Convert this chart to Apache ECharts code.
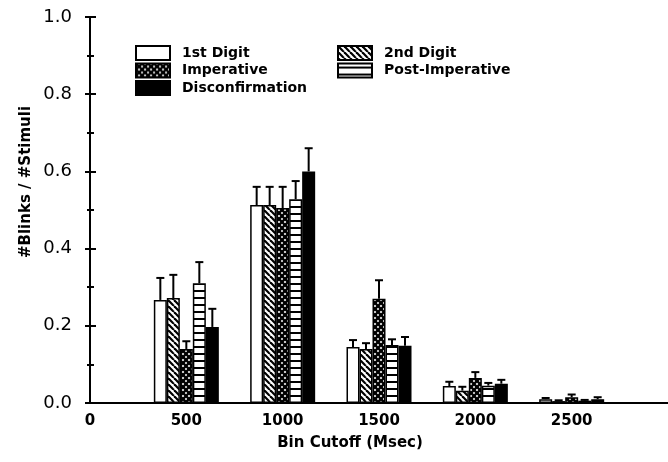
<!DOCTYPE html>
<html>
<head>
<meta charset="utf-8">
<script src="https://cdn.jsdelivr.net/npm/echarts@6/dist/echarts.min.js"></script>
<style>
  html, body { margin: 0; padding: 0; background: #fff; }
  #chart { width: 668px; height: 462px; }
</style>
</head>
<body>
<div id="chart"></div>
<script>
// bin cutoffs (msec) and group values
const bins = [500, 1000, 1500, 2000, 2500];
const seriesNames = ['1st Digit', '2nd Digit', 'Imperative', 'Post-Imperative', 'Disconfirmation'];

const firstDigit = [0.267, 0.513, 0.145, 0.044, 0.010];
const secondDigit = [0.272, 0.513, 0.140, 0.032, 0.005];
const imperative = [0.140, 0.505, 0.270, 0.065, 0.015];
const postImperative = [0.310, 0.528, 0.150, 0.045, 0.006];
const disconfirmation = [0.197, 0.600, 0.148, 0.050, 0.010];

// upper error bar lengths
const firstDigitErr = [0.057, 0.047, 0.018, 0.011, 0.003];
const secondDigitErr = [0.060, 0.047, 0.015, 0.010, 0.002];
const imperativeErr = [0.020, 0.055, 0.048, 0.015, 0.007];
const postImperativeErr = [0.055, 0.047, 0.015, 0.007, 0.002];
const disconfirmationErr = [0.047, 0.060, 0.023, 0.010, 0.005];

const allValues = [firstDigit, secondDigit, imperative, postImperative, disconfirmation];
const allErrs = [firstDigitErr, secondDigitErr, imperativeErr, postImperativeErr, disconfirmationErr];

const barW = 13;

function makePattern(kind) {
  let c = document.createElement('canvas');
  let s = kind == 'horiz' ? 7 : 6;
  c.width = s;
  c.height = s;
  let ctx = c.getContext('2d');
  ctx.fillStyle = '#fff';
  ctx.fillRect(0, 0, s, s);
  ctx.strokeStyle = '#000';
  if (kind == 'diag' || kind == 'cross') {
    ctx.lineWidth = kind == 'cross' ? 2.4 : 2.2;
    for (let k = -1; k <= 1; k++) {
      ctx.beginPath();
      ctx.moveTo(k * s, 0);
      ctx.lineTo(k * s + s, s);
      ctx.stroke();
    }
    if (kind == 'cross') {
      for (let k = -1; k <= 1; k++) {
        ctx.beginPath();
        ctx.moveTo(k * s + s, 0);
        ctx.lineTo(k * s, s);
        ctx.stroke();
      }
    }
  } else if (kind == 'horiz') {
    ctx.fillStyle = '#000';
    ctx.fillRect(0, 3, s, 2);
  }
  return { image: c, repeat: 'repeat' };
}

const fills = ['#fff', makePattern('diag'), makePattern('cross'), makePattern('horiz'), '#000'];

let chart = echarts.init(document.getElementById('chart'));

let barSeries = allValues.map((vals, i) => ({
  name: seriesNames[i],
  type: 'bar',
  barWidth: barW,
  barGap: '0%',
  data: bins.map((b, j) => [b, vals[j]]),
  itemStyle: { color: fills[i], borderColor: '#000', borderWidth: 1.5 },
  emphasis: { disabled: true },
  z: 3,
}));

let errData = [];
allValues.forEach((vals, i) => {
  bins.forEach((b, j) => {
    errData.push([b, vals[j], vals[j] + allErrs[i][j], i]);
  });
});

let errSeries = {
  type: 'custom',
  name: 'err',
  data: errData,
  z: 4,
  silent: true,
  renderItem: (params, api) => {
    let p0 = api.coord([api.value(0), api.value(1)]);
    let p1 = api.coord([api.value(0), api.value(2)]);
    let cx = p0[0] + (api.value(3) - 2) * barW;
    return {
      type: 'group',
      children: [
        { type: 'line', shape: { x1: cx, y1: p0[1], x2: cx, y2: p1[1] }, style: { stroke: '#000', lineWidth: 2 } },
        { type: 'line', shape: { x1: cx - 4, y1: p1[1], x2: cx + 4, y2: p1[1] }, style: { stroke: '#000', lineWidth: 2 } },
      ],
    };
  },
};

const legendText = {
  fontFamily: 'DejaVu Sans',
  fontWeight: 'bold',
  fontSize: 14,
  lineHeight: 14,
  color: '#000',
  padding: [0, 0, 0, 7],
};

chart.setOption({
  animation: false,
  backgroundColor: '#fff',
  grid: { left: 90, right: 0, top: 17, bottom: 59 },
  legend: [
    {
      orient: 'vertical',
      left: 130,
      top: 40,
      itemWidth: 34,
      itemHeight: 14,
      itemGap: 1.5,
      icon: 'rect',
      data: [seriesNames[0], seriesNames[2], seriesNames[4]],
      textStyle: legendText,
      selectedMode: false,
    },
    {
      orient: 'vertical',
      left: 332,
      top: 40,
      itemWidth: 34,
      itemHeight: 14,
      itemGap: 1.5,
      icon: 'rect',
      data: [seriesNames[1], seriesNames[3]],
      textStyle: legendText,
      selectedMode: false,
    },
  ],
  xAxis: [
    {
      type: 'value',
      min: 0,
      max: 3000,
      interval: 500,
      axisLine: { show: true, lineStyle: { color: '#000', width: 2 } },
      axisTick: { show: false },
      splitLine: { show: false },
      axisLabel: {
        showMaxLabel: false,
        margin: 11,
        color: '#000',
        fontFamily: 'DejaVu Sans',
        fontWeight: 'bold',
        fontSize: 15,
        formatter: (v) => String(v),
      },
    },
    {
      type: 'value',
      position: 'top',
      min: 0,
      max: 3000,
      axisLine: { show: true, lineStyle: { color: '#000', width: 2 } },
      axisTick: { show: false },
      axisLabel: { show: false },
      splitLine: { show: false },
    },
  ],
  yAxis: [
    {
      type: 'value',
      min: 0,
      max: 1,
      interval: 0.2,
      axisLine: { show: true, lineStyle: { color: '#000', width: 2 } },
      axisTick: { show: true, inside: true, length: 6, lineStyle: { color: '#000', width: 2 } },
      minorTick: { show: true, splitNumber: 2, length: 4, lineStyle: { color: '#000', width: 2 } },
      splitLine: { show: false },
      axisLabel: {
        margin: 18,
        color: '#000',
        fontFamily: 'DejaVu Sans',
        fontSize: 18,
        formatter: (v) => v.toFixed(1),
      },
    },
    {
      type: 'value',
      position: 'right',
      min: 0,
      max: 1,
      interval: 0.2,
      axisLine: { show: false },
      axisTick: { show: true, inside: true, length: 5, lineStyle: { color: '#000', width: 2 } },
      minorTick: { show: true, splitNumber: 2, length: 3, lineStyle: { color: '#000', width: 2 } },
      splitLine: { show: false },
      axisLabel: { show: false },
    },
  ],
  graphic: [
    {
      type: 'text',
      x: 26,
      y: 182,
      rotation: Math.PI / 2,
      style: {
        text: '#Blinks / #Stimuli',
        fontFamily: 'DejaVu Sans',
        fontWeight: 'bold',
        fontSize: 15,
        fill: '#000',
        align: 'center',
        verticalAlign: 'middle',
      },
    },
    {
      type: 'text',
      x: 350,
      y: 443,
      style: {
        text: 'Bin Cutoff (Msec)',
        fontFamily: 'DejaVu Sans',
        fontWeight: 'bold',
        fontSize: 15,
        fill: '#000',
        align: 'center',
        verticalAlign: 'middle',
      },
    },
  ],
  series: [...barSeries, errSeries],
});
</script>
</body>
</html>
